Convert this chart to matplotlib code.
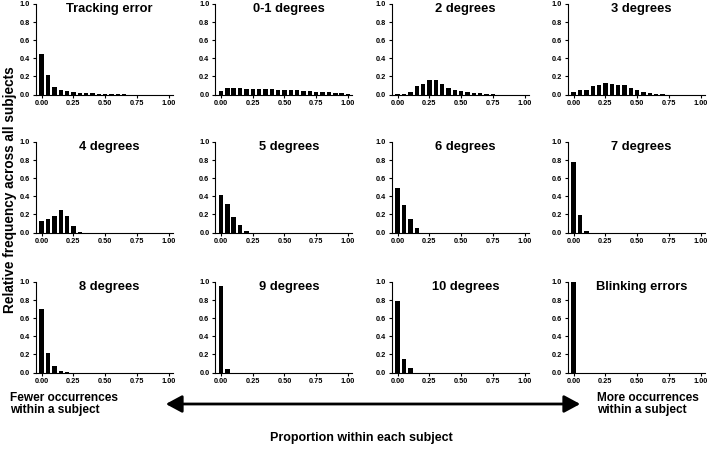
import numpy as np
import matplotlib
matplotlib.use("Agg")
import matplotlib.pyplot as plt

plt.rcParams['font.family'] = ['Liberation Sans', 'DejaVu Sans']
plt.rcParams['font.weight'] = 'bold'

# bin centres (proportion within a subject)
bins = [round(0.05 * i, 2) for i in range(21)]

titles = ['Tracking error', '0-1 degrees', '2 degrees', '3 degrees',
          '4 degrees', '5 degrees', '6 degrees', '7 degrees',
          '8 degrees', '9 degrees', '10 degrees', 'Blinking errors']

tracking = [0.45, 0.22, 0.08, 0.055, 0.035, 0.025, 0.02, 0.017, 0.015, 0.01,
            0.008, 0.005, 0.003, 0.002]
deg01 = [0.04, 0.07, 0.07, 0.07, 0.065, 0.06, 0.06, 0.06, 0.06, 0.055, 0.055,
         0.05, 0.045, 0.04, 0.035, 0.03, 0.03, 0.025, 0.02, 0.015, 0.01]
deg2 = [0.005, 0.01, 0.03, 0.09, 0.12, 0.165, 0.165, 0.115, 0.075, 0.05,
        0.04, 0.025, 0.02, 0.015, 0.01, 0.005]
deg3 = [0.03, 0.045, 0.05, 0.095, 0.11, 0.13, 0.12, 0.11, 0.11, 0.075,
        0.045, 0.03, 0.015, 0.01, 0.005]
deg4 = [0.13, 0.15, 0.18, 0.25, 0.18, 0.075, 0.01]
deg5 = [0.41, 0.31, 0.17, 0.08, 0.02]
deg6 = [0.49, 0.30, 0.15, 0.05]
deg7 = [0.78, 0.19, 0.02]
deg8 = [0.70, 0.21, 0.07, 0.02, 0.005]
deg9 = [0.96, 0.04]
deg10 = [0.79, 0.15, 0.05]
blinking = [1.0]

series = [tracking, deg01, deg2, deg3, deg4, deg5, deg6, deg7,
          deg8, deg9, deg10, blinking]

fig = plt.figure(figsize=(7.09, 4.5), dpi=100)

lefts = [35.7, 215.0, 391.7, 567.7]
tops = [4, 142, 282]
W, H = 709.0, 450.0
aw, ah = 136.8, 90.5

for i, (title, vals) in enumerate(zip(titles, series)):
    r, c = divmod(i, 4)
    ax = fig.add_axes([lefts[c] / W, 1 - (tops[r] + ah) / H, aw / W, ah / H])
    ax.bar(bins[:len(vals)], vals, width=0.035, color='black')
    ax.set_xlim(-0.047, 1.03)
    ax.set_ylim(0, 1.0)
    ax.set_xticks([0, 0.25, 0.5, 0.75, 1.0])
    ax.set_xticklabels(['0.00', '0.25', '0.50', '0.75', '1.00'])
    ax.set_yticks([0, 0.2, 0.4, 0.6, 0.8, 1.0])
    ax.set_yticklabels(['0.0', '0.2', '0.4', '0.6', '0.8', '1.0'])
    ax.tick_params(labelsize=5.3, length=2.5, width=0.8, pad=1.5, direction='out')
    for s in ['top', 'right']:
        ax.spines[s].set_visible(False)
    for s in ['left', 'bottom']:
        ax.spines[s].set_linewidth(0.8)
    ax.text(0.54, 1.01, title, transform=ax.transAxes, ha='center', va='top',
            fontsize=9.3, fontweight='bold')

fig.text(10 / W, 1 - 190 / H, 'Relative frequency across all subjects',
         rotation=90, ha='center', va='center', fontsize=9.8, fontweight='bold')

fig.text(10 / W, 1 - 404 / H, 'Fewer occurrences\nwithin a subject',
         ha='left', va='center', fontsize=8.6, fontweight='bold', linespacing=1.1)
fig.text(597 / W, 1 - 404 / H, 'More occurrences\nwithin a subject',
         ha='left', va='center', fontsize=8.6, fontweight='bold', linespacing=1.1)
fig.text(361 / W, 1 - 438 / H, 'Proportion within each subject',
         ha='center', va='center', fontsize=9, fontweight='bold')

fig.patches.append(matplotlib.patches.FancyArrowPatch(
    (163 / W, 1 - 404 / H), (583 / W, 1 - 404 / H), transform=fig.transFigure,
    arrowstyle='<|-|>,head_length=6.5,head_width=3.5', mutation_scale=1.5,
    color='black', linewidth=2))

fig.savefig('out.png', dpi=100)
